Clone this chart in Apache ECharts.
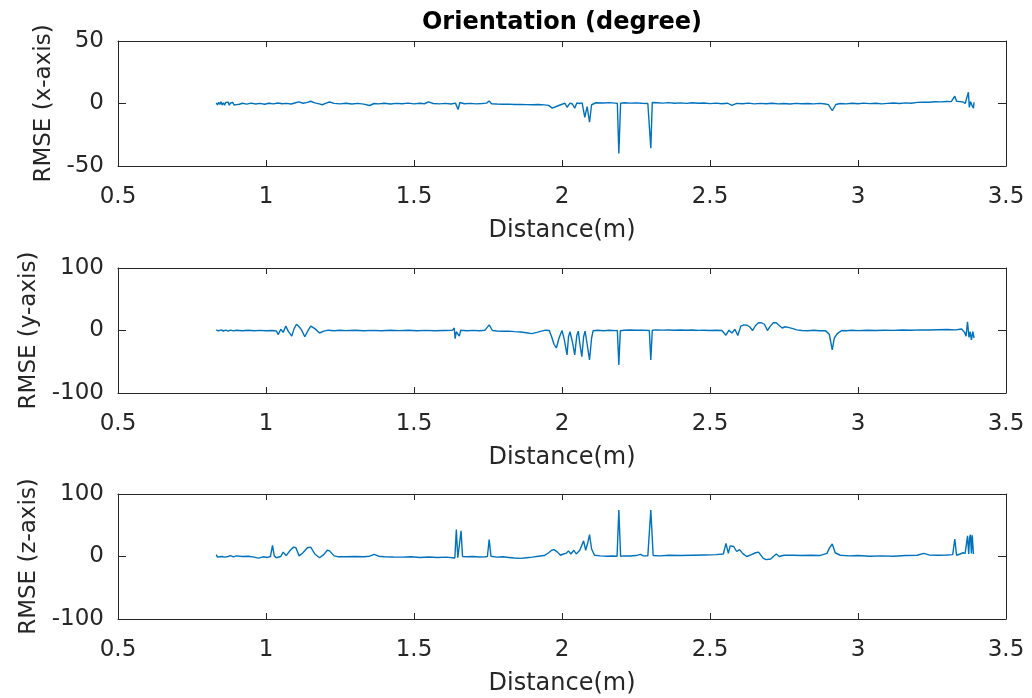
<!DOCTYPE html>
<html>
<head>
<meta charset="utf-8">
<script src="https://cdn.jsdelivr.net/npm/echarts@6/dist/echarts.min.js"></script>
<style>html,body{margin:0;padding:0;background:#fff;}#c{width:1032px;height:698px;}</style>
</head>
<body>
<div id="c"></div>
<script>
var titleText = 'Orientation (degree)';
var xName = 'Distance(m)';
var yNames = ['RMSE (x-axis)', 'RMSE (y-axis)', 'RMSE (z-axis)'];
var yRanges = [[-50, 50, 50], [-100, 100, 100], [-100, 100, 100]];

var distX = [0.832,0.836,0.840,0.844,0.848,0.852,0.856,0.860,0.864,0.868,0.872,0.876,0.880,0.884,0.888,0.892,0.896,0.900,0.905,0.910,0.920,0.935,0.950,0.965,0.980,0.995,1.010,1.025,1.040,1.055,1.070,1.085,1.100,1.111,1.125,1.140,1.151,1.165,1.180,1.190,1.203,1.215,1.230,1.250,1.270,1.290,1.310,1.330,1.350,1.365,1.380,1.400,1.420,1.440,1.460,1.480,1.500,1.520,1.535,1.549,1.565,1.585,1.605,1.625,1.640,1.649,1.655,1.670,1.690,1.710,1.730,1.745,1.754,1.762,1.780,1.800,1.820,1.840,1.860,1.880,1.900,1.920,1.940,1.955,1.967,1.985,2.000,2.010,2.017,2.027,2.035,2.043,2.050,2.060,2.068,2.077,2.085,2.093,2.100,2.115,2.140,2.160,2.180,2.187,2.192,2.198,2.210,2.230,2.250,2.270,2.290,2.300,2.305,2.320,2.340,2.360,2.380,2.400,2.420,2.440,2.460,2.480,2.500,2.520,2.540,2.560,2.574,2.590,2.610,2.630,2.650,2.670,2.690,2.710,2.730,2.750,2.770,2.790,2.810,2.830,2.850,2.870,2.890,2.900,2.913,2.925,2.940,2.960,2.980,3.000,3.020,3.040,3.060,3.080,3.100,3.120,3.140,3.160,3.180,3.200,3.220,3.240,3.260,3.280,3.300,3.315,3.327,3.333,3.345,3.355,3.362,3.368,3.373,3.376,3.380,3.385,3.390,3.392];
var rmseX = [0.5,-1.2,1.0,-0.8,1.3,-1.1,0.6,-1.4,0.9,-0.7,1.1,-1.3,0.4,-1.0,0.8,-1.2,0.3,-0.9,0.5,-0.6,0.2,-0.5,0.3,-0.4,0.1,-0.6,0.2,-0.3,0.4,-0.2,0.1,-0.4,0.6,1.3,0.2,0.9,1.8,0.5,-0.3,-1.0,0.3,1.2,0.1,-0.3,0.2,-0.4,0.1,-0.5,-1.6,0.0,-0.3,0.2,-0.4,0.1,-0.2,0.3,-0.3,0.2,-0.2,1.3,0.0,-0.3,0.1,-0.4,0.3,-4.8,0.8,-0.2,0.1,-0.3,0.0,0.3,2.0,-0.2,-0.4,-0.6,-0.5,-0.8,-0.7,-0.9,-1.0,-0.8,-1.1,-1.5,-3.7,-2.0,-0.6,0.2,-3.0,0.3,-0.4,-3.7,0.4,0.0,0.5,-11.0,-2.5,-15.0,-1.0,0.6,0.4,0.7,0.3,0.0,-40.0,0.2,0.6,0.3,0.5,0.2,0.0,-35.7,0.8,0.6,0.3,0.7,0.2,0.5,0.1,0.6,0.2,0.4,-0.1,0.3,-0.2,0.2,-1.5,0.1,-0.2,0.3,-0.3,0.1,-0.2,0.2,-0.3,0.0,-0.4,0.1,-0.2,0.0,-0.3,0.1,-0.4,-0.9,-5.8,-0.8,0.0,-0.3,0.2,-0.2,0.3,-0.1,0.2,-0.3,0.1,0.4,0.0,0.5,0.2,0.9,1.1,1.0,1.4,1.3,1.6,1.5,5.8,1.8,1.5,1.2,0.0,1.5,9.0,-3.0,1.5,-1.5,-3.7,1.0];

var distY = [0.832,0.840,0.848,0.856,0.864,0.872,0.880,0.890,0.900,0.920,0.940,0.960,0.980,1.000,1.020,1.035,1.041,1.050,1.058,1.067,1.075,1.087,1.095,1.103,1.112,1.120,1.131,1.141,1.151,1.165,1.181,1.195,1.210,1.230,1.250,1.270,1.300,1.330,1.360,1.390,1.420,1.450,1.480,1.510,1.540,1.570,1.600,1.630,1.636,1.639,1.643,1.647,1.653,1.658,1.680,1.700,1.720,1.740,1.754,1.765,1.780,1.800,1.820,1.840,1.860,1.880,1.898,1.915,1.930,1.945,1.957,1.965,1.973,1.981,1.990,2.000,2.008,2.017,2.022,2.027,2.035,2.043,2.050,2.055,2.060,2.067,2.073,2.078,2.085,2.093,2.100,2.105,2.120,2.140,2.160,2.180,2.187,2.192,2.197,2.210,2.230,2.250,2.270,2.295,2.300,2.305,2.320,2.340,2.360,2.380,2.400,2.420,2.440,2.460,2.480,2.500,2.520,2.540,2.554,2.564,2.574,2.584,2.594,2.604,2.614,2.624,2.634,2.644,2.654,2.664,2.674,2.684,2.694,2.704,2.714,2.724,2.734,2.744,2.754,2.764,2.780,2.793,2.810,2.830,2.850,2.870,2.890,2.903,2.913,2.920,2.930,2.945,2.960,2.980,3.000,3.030,3.060,3.090,3.120,3.150,3.180,3.210,3.240,3.270,3.300,3.330,3.350,3.360,3.365,3.370,3.375,3.379,3.383,3.388,3.392];
var rmseY = [0.8,-0.5,1.0,-0.8,0.6,-1.0,0.7,-0.6,0.4,-0.5,0.3,-0.4,0.2,-0.3,0.1,-0.6,-6.5,2.0,-3.0,7.0,-1.0,-9.0,3.0,10.0,6.0,1.0,-10.0,-1.0,7.0,3.0,-4.0,-1.0,0.5,-0.3,0.4,-0.2,0.3,-0.4,0.2,-0.3,0.4,-0.2,0.3,-0.4,0.2,-0.3,0.1,0.3,4.0,-13.0,-2.0,-1.0,-9.0,0.5,-0.3,0.2,-0.4,0.5,9.0,0.0,-0.8,-1.2,-1.0,-1.8,-2.5,-3.5,-5.0,-3.0,-1.0,0.5,0.0,-10.0,-22.0,-28.0,-12.0,0.0,-15.0,-39.0,-10.0,-2.0,-18.0,-39.0,-8.0,-1.0,-20.0,-42.0,-10.0,-1.0,-22.0,-47.0,-12.0,-0.5,0.3,-0.4,0.5,-0.2,0.0,-55.0,-0.5,0.4,0.8,0.3,0.6,0.0,-47.0,0.5,1.0,0.6,0.9,0.4,0.8,0.3,0.7,0.2,0.5,0.1,0.4,0.0,-7.5,0.5,-4.0,2.0,-8.0,7.0,9.0,8.6,6.0,0.0,8.0,12.4,12.4,10.0,0.0,7.0,12.4,12.4,8.0,4.0,6.0,5.0,3.0,1.0,0.0,-0.4,0.3,-0.5,-0.2,-6.0,-31.0,-12.0,-5.0,0.0,-0.4,0.3,-0.2,0.4,-0.1,0.5,0.2,0.8,0.5,1.0,0.7,1.2,1.5,1.0,2.5,-3.0,-9.0,14.0,-11.0,-2.0,-15.0,-2.0,-12.0];

var distZ = [0.832,0.836,0.840,0.844,0.848,0.852,0.856,0.860,0.866,0.872,0.880,0.890,0.900,0.920,0.940,0.960,0.975,0.990,1.005,1.015,1.022,1.028,1.035,1.050,1.058,1.068,1.082,1.093,1.101,1.112,1.125,1.140,1.151,1.165,1.181,1.195,1.207,1.215,1.230,1.245,1.270,1.300,1.330,1.350,1.366,1.380,1.400,1.430,1.460,1.490,1.520,1.550,1.580,1.610,1.630,1.638,1.643,1.648,1.654,1.659,1.664,1.680,1.700,1.720,1.740,1.748,1.754,1.760,1.780,1.800,1.820,1.840,1.860,1.880,1.900,1.920,1.940,1.955,1.965,1.973,1.985,1.995,2.005,2.015,2.022,2.030,2.040,2.048,2.060,2.073,2.080,2.087,2.093,2.100,2.110,2.130,2.150,2.170,2.186,2.192,2.198,2.210,2.230,2.250,2.265,2.275,2.290,2.300,2.308,2.330,2.360,2.400,2.440,2.480,2.520,2.545,2.554,2.562,2.568,2.574,2.580,2.590,2.600,2.610,2.624,2.640,2.654,2.664,2.680,2.690,2.705,2.714,2.724,2.734,2.750,2.780,2.810,2.840,2.870,2.895,2.903,2.913,2.923,2.940,2.970,3.000,3.040,3.080,3.120,3.160,3.200,3.222,3.240,3.270,3.300,3.320,3.327,3.333,3.345,3.355,3.362,3.367,3.370,3.374,3.377,3.380,3.383,3.386,3.390];
var rmseZ = [3.0,-1.0,2.0,-0.5,2.5,0.0,1.8,-1.0,2.0,0.0,1.5,-0.5,1.0,0.0,0.5,-1.0,-2.7,-0.5,-1.5,0.0,17.7,1.0,-2.0,0.0,7.0,1.5,10.0,15.0,14.0,1.0,6.0,14.0,15.0,4.0,-2.0,3.0,10.0,9.0,1.0,-0.5,-0.3,0.0,-0.5,0.5,3.5,0.5,-0.3,-0.8,-1.0,-0.5,-1.5,-0.8,-1.5,-1.0,-2.0,-2.5,43.0,-2.0,-1.0,41.0,0.0,-0.5,0.0,-0.7,-0.3,0.0,27.0,0.5,-1.0,-0.5,-1.5,-2.5,-3.0,-2.0,-1.0,0.5,1.5,6.0,10.0,11.0,7.0,2.0,4.0,5.5,9.0,4.0,10.0,4.0,10.0,25.0,10.0,22.0,35.0,12.0,2.0,1.0,0.5,0.8,0.5,74.5,0.5,1.0,0.8,1.5,3.5,1.0,1.0,74.5,1.5,1.0,2.0,1.5,2.0,2.5,3.0,4.0,21.0,5.0,17.0,14.0,16.0,8.0,11.0,5.0,0.0,3.0,6.0,7.0,-3.0,-5.0,-4.0,0.0,4.0,0.0,2.0,2.0,1.5,2.0,1.5,5.0,13.0,20.0,6.0,2.0,1.0,1.5,0.5,1.0,0.5,1.5,2.0,5.0,2.5,2.0,2.5,3.0,28.0,2.0,4.0,6.0,5.0,4.0,33.0,4.0,30.0,35.0,5.0,34.0,4.0];

function zip(a, b) { var r = []; for (var i = 0; i < a.length; i++) r.push([a[i], b[i]]); return r; }
var seriesData = [zip(distX, rmseX), zip(distY, rmseY), zip(distZ, rmseZ)];

var FONT = 'DejaVu Sans';
var INK = '#262626';
var tops = [41, 268, 494];
var grids = [], xAxes = [], yAxes = [], series = [];
for (var i = 0; i < 3; i++) {
  grids.push({left: 118, top: tops[i], width: 888, height: 125, containLabel: false});
  var baseX = {type: 'value', gridIndex: i, min: 0.5, max: 3.5, interval: 0.5,
    axisLine: {show: true, onZero: false, lineStyle: {color: INK, width: 1}},
    axisTick: {show: true, inside: true, length: 6, lineStyle: {color: INK, width: 1}},
    splitLine: {show: false}};
  xAxes.push(Object.assign({}, baseX, {position: 'bottom',
    axisLabel: {show: true, fontSize: 23, fontFamily: FONT, color: INK, margin: 20},
    name: xName, nameLocation: 'middle', nameGap: 53,
    nameTextStyle: {fontSize: 24, fontFamily: FONT, color: INK}}));
  xAxes.push(Object.assign({}, baseX, {position: 'top', axisLabel: {show: false}}));
  var r = yRanges[i];
  var baseY = {type: 'value', gridIndex: i, min: r[0], max: r[1], interval: r[2],
    axisLine: {show: true, onZero: false, lineStyle: {color: INK, width: 1}},
    axisTick: {show: true, inside: true, length: 8, lineStyle: {color: INK, width: 1}},
    splitLine: {show: false}};
  yAxes.push(Object.assign({}, baseY, {position: 'left',
    axisLabel: {show: true, fontSize: 23, fontFamily: FONT, color: INK, margin: 14},
    name: yNames[i], nameLocation: 'middle', nameGap: 60,
    nameTextStyle: {fontSize: 23, fontFamily: FONT, color: INK}}));
  yAxes.push(Object.assign({}, baseY, {position: 'right', axisLabel: {show: false}}));
  series.push({type: 'line', xAxisIndex: 2 * i, yAxisIndex: 2 * i, data: seriesData[i],
    showSymbol: false, symbol: 'none', smooth: false,
    lineStyle: {color: '#0072BD', width: 1.4}, itemStyle: {color: '#0072BD'}});
}

var chart = echarts.init(document.getElementById('c'), null, {renderer: 'canvas'});
chart.setOption({
  animation: false,
  backgroundColor: '#ffffff',
  grid: grids, xAxis: xAxes, yAxis: yAxes, series: series,
  graphic: [{type: 'text', x: 562, y: 11, style: {text: titleText, textAlign: 'center', textVerticalAlign: 'top',
    font: 'bold 24px "DejaVu Sans"', fill: '#000000'}}]
});
</script>
</body>
</html>
